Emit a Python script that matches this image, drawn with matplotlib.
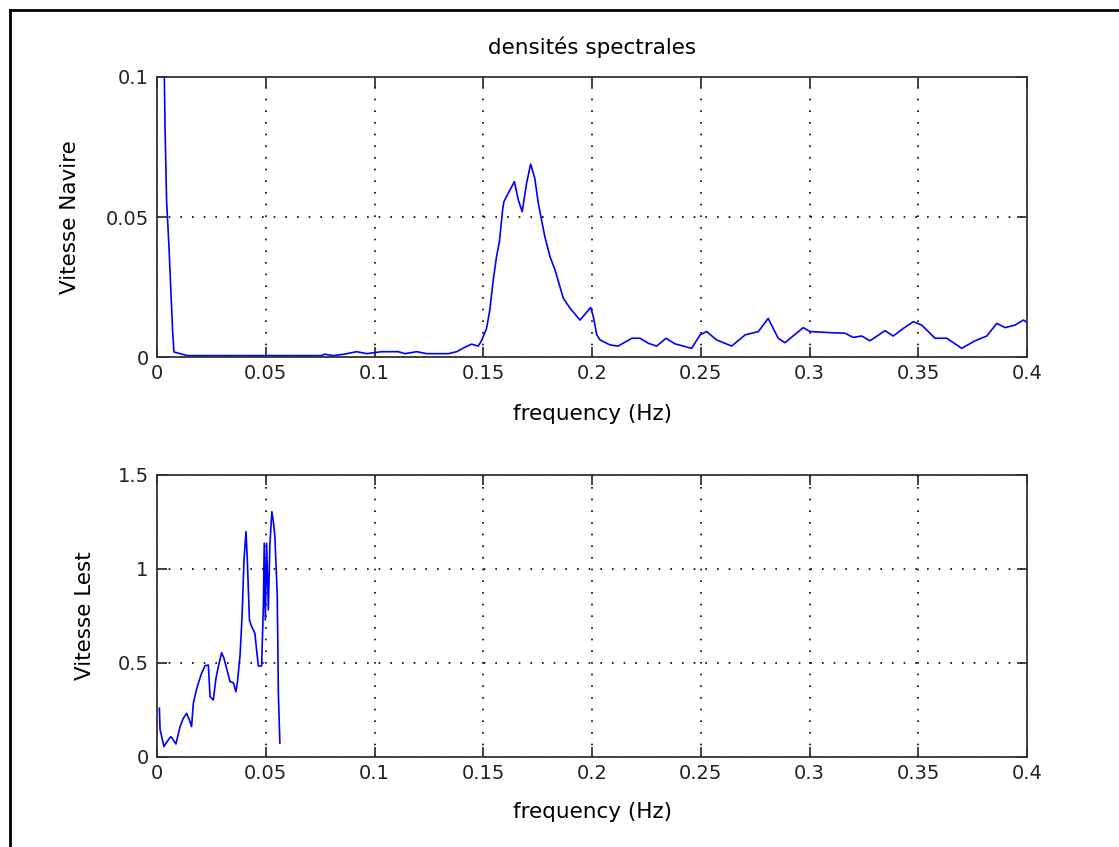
import numpy as np
import matplotlib
matplotlib.use("Agg")
import matplotlib.pyplot as plt
from matplotlib.lines import Line2D
from matplotlib.ticker import FormatStrFormatter

# densite spectrale, vitesse du navire
freq_navire = [0.0030, 0.0037, 0.0044, 0.0054, 0.0063, 0.0072, 0.0078, 0.0106, 0.0139,
               0.0757, 0.0770, 0.0810, 0.0860, 0.0918, 0.0965, 0.1033, 0.1109, 0.1140,
               0.1194, 0.1240, 0.1340, 0.1378, 0.1416, 0.1446, 0.1477, 0.1493, 0.1515,
               0.1530, 0.1546, 0.1561, 0.1574, 0.1589, 0.1595, 0.1615, 0.1643, 0.1661,
               0.1679, 0.1699, 0.1718, 0.1737, 0.1753, 0.1783, 0.1807, 0.1830, 0.1868,
               0.1899, 0.1945, 0.1994, 0.2006, 0.2022, 0.2037, 0.2083, 0.2120, 0.2183,
               0.2221, 0.2259, 0.2297, 0.2340, 0.2382, 0.2458, 0.2497, 0.2527, 0.2573,
               0.2642, 0.2704, 0.2765, 0.2810, 0.2856, 0.2887, 0.2971, 0.3002, 0.3094,
               0.3163, 0.3201, 0.3240, 0.3278, 0.3347, 0.3385, 0.3431, 0.3477, 0.3516,
               0.3577, 0.3631, 0.3700, 0.3761, 0.3815, 0.3861, 0.3899, 0.3945, 0.3984,
               0.4000]
dsp_navire = [0.120, 0.082, 0.056, 0.041, 0.025, 0.009, 0.0018, 0.0012, 0.0005,
              0.0005, 0.0010, 0.0005, 0.0010, 0.0019, 0.0012, 0.0019, 0.0019, 0.0012,
              0.0019, 0.0012, 0.0012, 0.0019, 0.0035, 0.0046, 0.0039, 0.0060, 0.0102,
              0.0167, 0.0275, 0.0358, 0.0411, 0.0525, 0.0555, 0.0585, 0.0626, 0.0561,
              0.0519, 0.0620, 0.0689, 0.0638, 0.0549, 0.0430, 0.0358, 0.0311, 0.0210,
              0.0174, 0.0132, 0.0177, 0.0144, 0.0079, 0.0061, 0.0043, 0.0039, 0.0067,
              0.0067, 0.0049, 0.0039, 0.0067, 0.0047, 0.0031, 0.0079, 0.0091, 0.0061,
              0.0039, 0.0079, 0.0091, 0.0138, 0.0067, 0.0051, 0.0105, 0.0091, 0.0087,
              0.0085, 0.0070, 0.0075, 0.0058, 0.0094, 0.0075, 0.0102, 0.0126, 0.0114,
              0.0067, 0.0067, 0.0031, 0.0058, 0.0075, 0.0120, 0.0105, 0.0114, 0.0132,
              0.0123]

# densite spectrale, vitesse du lest
freq_lest = [0.0011, 0.0014, 0.0032, 0.0041, 0.0063, 0.0070, 0.0087, 0.0106, 0.0121,
             0.0136, 0.0149, 0.0159, 0.0167, 0.0179, 0.0190, 0.0205, 0.0221, 0.0236,
             0.0244, 0.0259, 0.0271, 0.0282, 0.0297, 0.0308, 0.0320, 0.0336, 0.0351,
             0.0363, 0.0370, 0.0382, 0.0391, 0.0400, 0.0409, 0.0415, 0.0425, 0.0435,
             0.0450, 0.0458, 0.0466, 0.0481, 0.0489, 0.0493, 0.0498, 0.0504, 0.0512,
             0.0519, 0.0528, 0.0535, 0.0542, 0.0553, 0.0558, 0.0565]
dsp_lest = [0.259, 0.147, 0.055, 0.073, 0.108, 0.100, 0.069, 0.161, 0.206,
            0.232, 0.197, 0.161, 0.285, 0.347, 0.392, 0.445, 0.486, 0.489,
            0.321, 0.303, 0.418, 0.480, 0.555, 0.525, 0.471, 0.400, 0.395,
            0.347, 0.400, 0.542, 0.747, 1.048, 1.199, 1.057, 0.729, 0.694,
            0.658, 0.569, 0.484, 0.484, 0.800, 1.137, 0.729, 1.137, 0.782,
            1.128, 1.305, 1.252, 1.172, 0.853, 0.339, 0.073]

xticks = [0, 0.05, 0.1, 0.15, 0.2, 0.25, 0.3, 0.35, 0.4]
yticks_navire = [0, 0.05, 0.1]
yticks_lest = [0, 0.5, 1, 1.5]

fs_tick = 14
fs_lab = 15.5

fig = plt.figure(figsize=(11.19, 8.47), dpi=100)
fig.patch.set_facecolor("white")

ax1 = fig.add_axes([0.1403, 0.5785, 0.7775, 0.3306])
ax2 = fig.add_axes([0.1403, 0.1063, 0.7775, 0.3329])


def reglage(ax, yticks, ylim):
    ax.set_xlim(0, 0.4)
    ax.set_ylim(*ylim)
    ax.set_xticks(xticks)
    ax.set_yticks(yticks)
    ax.xaxis.set_major_formatter(FormatStrFormatter("%g"))
    ax.yaxis.set_major_formatter(FormatStrFormatter("%g"))
    ax.tick_params(axis="both", direction="in", length=7, width=1.2,
                   top=True, right=True, labelsize=fs_tick, colors="#222222")
    ax.tick_params(axis="x", pad=5)
    ax.tick_params(axis="y", pad=6)
    ax.grid(True, color="black", linestyle=(0, (1, 6)), linewidth=1.2)
    for s in ax.spines.values():
        s.set_linewidth(1.3)
        s.set_color("#333333")
    ax.set_xlabel("frequency (Hz)", fontsize=fs_lab)


ax1.plot(freq_navire, dsp_navire, color="#0000ff", linewidth=1.2)
reglage(ax1, yticks_navire, (0, 0.1))
ax1.set_ylabel("Vitesse Navire", fontsize=fs_lab)
ax1.set_title("densités spectrales", fontsize=fs_lab, y=1.107, va="center", pad=0)
ax1.xaxis.set_label_coords(0.5, -0.204)
ax1.yaxis.set_label_coords(-0.1, 0.5)

ax2.plot(freq_lest, dsp_lest, color="#0000ff", linewidth=1.2)
reglage(ax2, yticks_lest, (0, 1.5))
ax2.set_ylabel("Vitesse Lest", fontsize=fs_lab)
ax2.xaxis.set_label_coords(0.5, -0.195)
ax2.yaxis.set_label_coords(-0.083, 0.5)

for ax in (ax1, ax2):
    ax.xaxis.label.set_va("center")
    ax.yaxis.label.set_va("center")

# cadre exterieur (seulement gauche et haut visibles)
fig.add_artist(Line2D([0.0089, 0.0089], [0, 0.988], color="black", linewidth=2))
fig.add_artist(Line2D([0.0089, 1.0], [0.988, 0.988], color="black", linewidth=2))

fig.savefig("out.png", dpi=100)
